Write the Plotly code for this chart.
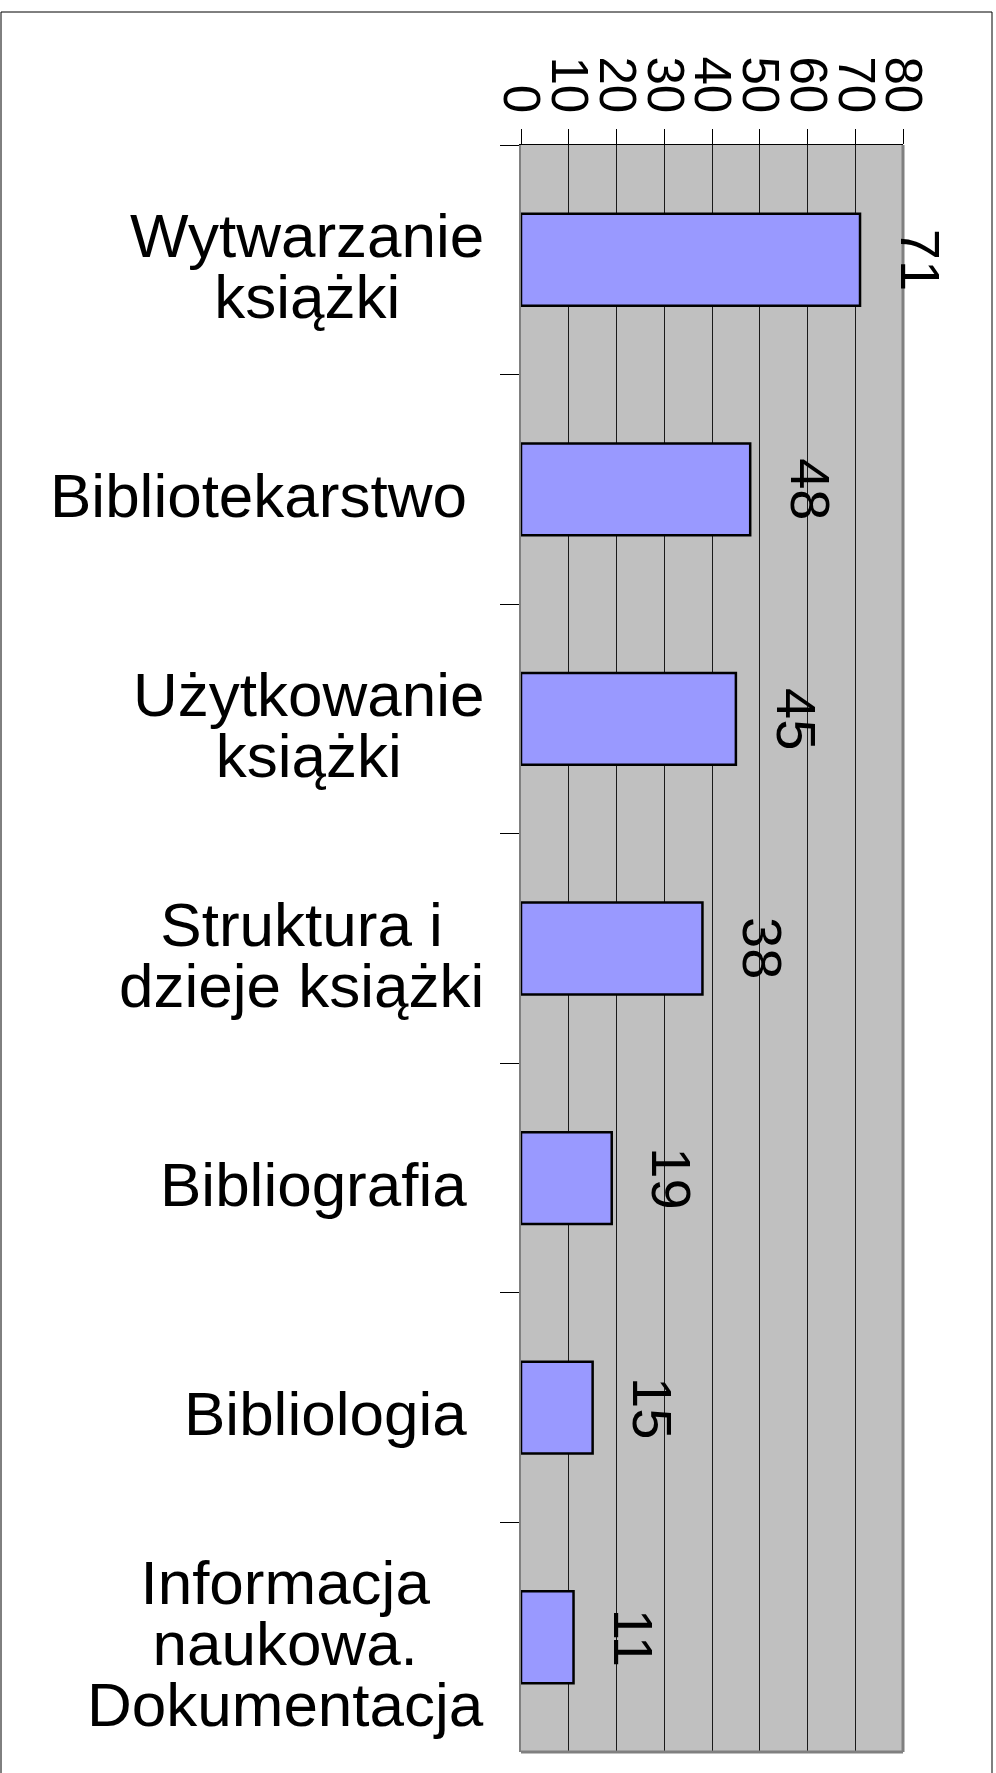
import plotly.graph_objects as go

# ---- data ----
categories = [
    "Wytwarzanie książki",
    "Bibliotekarstwo",
    "Użytkowanie książki",
    "Struktura i dzieje książki",
    "Bibliografia",
    "Bibliologia",
    "Informacja naukowa. Dokumentacja",
]
label_lines = [
    ["Wytwarzanie", "książki"],
    ["Bibliotekarstwo&nbsp;"],
    ["Użytkowanie", "książki"],
    ["Struktura i", "dzieje książki"],
    ["Bibliografia&nbsp;"],
    ["Bibliologia&nbsp;"],
    ["Informacja", "naukowa.", "Dokumentacja"],
]
values = [71, 48, 45, 38, 19, 15, 11]
x_ticks = [0, 10, 20, 30, 40, 50, 60, 70, 80]

# ---- style ----
FONT = "Liberation Sans, Arial, Helvetica, sans-serif"
W, H = 996, 1773
L, R, T, B = 521, 93, 145, 21
plot_w = W - L - R
plot_h = H - T - B
CAT_FS = 62

fig = go.Figure()
fig.add_trace(go.Bar(
    x=values, y=categories, orientation="h", width=0.4,
    marker=dict(color="#9999FF", line=dict(color="black", width=2.5)),
    hoverinfo="x+y",
))

ann = []
for cat, lines in zip(categories, label_lines):
    txt = "<br>".join(f'<span style="font-size:{CAT_FS}px">{ln}</span>' for ln in lines)
    ann.append(dict(
        xref="paper", yref="y", x=0, y=cat, xanchor="right", yanchor="middle",
        xshift=-35, yshift=-6, align="center", showarrow=False, text=txt,
        font=dict(family=FONT, size=61 / 1.3, color="black"),
    ))
for cat, v in zip(categories, values):
    ann.append(dict(
        xref="x", yref="y", x=v, y=cat, xanchor="center", yanchor="middle",
        xshift=60, textangle=90, showarrow=False, text=str(v),
        font=dict(family=FONT, size=56, color="black"),
    ))

# outer frame in paper coordinates
def px2paper_x(px):
    return (px - L) / plot_w

def py2paper_y(py):
    return (H - B - py) / plot_h

shapes = [
    dict(type="rect", xref="paper", yref="paper",
         x0=px2paper_x(1), x1=px2paper_x(992), y0=py2paper_y(1790), y1=py2paper_y(12),
         line=dict(color="black", width=1), layer="above"),
    dict(type="line", xref="x domain", yref="y domain", x0=1, x1=1, y0=0, y1=1,
         line=dict(color="#808080", width=3), layer="above"),
    dict(type="line", xref="x domain", yref="y domain", x0=0, x1=1, y0=0, y1=0,
         line=dict(color="#808080", width=3), layer="above"),
]

fig.update_layout(
    width=W, height=H,
    margin=dict(l=L, r=R, t=T, b=B, pad=0),
    paper_bgcolor="white", plot_bgcolor="#C0C0C0",
    showlegend=False,
    font=dict(family=FONT, color="black"),
    annotations=ann, shapes=shapes,
    xaxis=dict(
        side="top", range=[0, 80], tickmode="array", tickvals=x_ticks,
        ticktext=[str(t) for t in x_ticks],
        ticks="outside", ticklen=15, tickwidth=1, tickcolor="black",
        tickangle=90, tickfont=dict(family=FONT, size=51, color="black"),
        ticklabelstandoff=-2,
        showgrid=True, gridcolor="#1a1a1a", gridwidth=1,
        showline=True, linecolor="black", linewidth=1, zeroline=False,
    ),
    yaxis=dict(
        type="category", categoryorder="array", categoryarray=categories,
        range=[6.5, -0.5], showticklabels=False,
        ticks="outside", ticklen=19, tickwidth=1, tickcolor="black",
        tickson="boundaries", showgrid=False,
        showline=True, linecolor="#808080", linewidth=2, zeroline=False,
    ),
)

fig.write_html(
    "out.html",
    config={"displayModeBar": False},
    post_script="document.body.style.margin='0';document.body.style.overflow='hidden';",
)
